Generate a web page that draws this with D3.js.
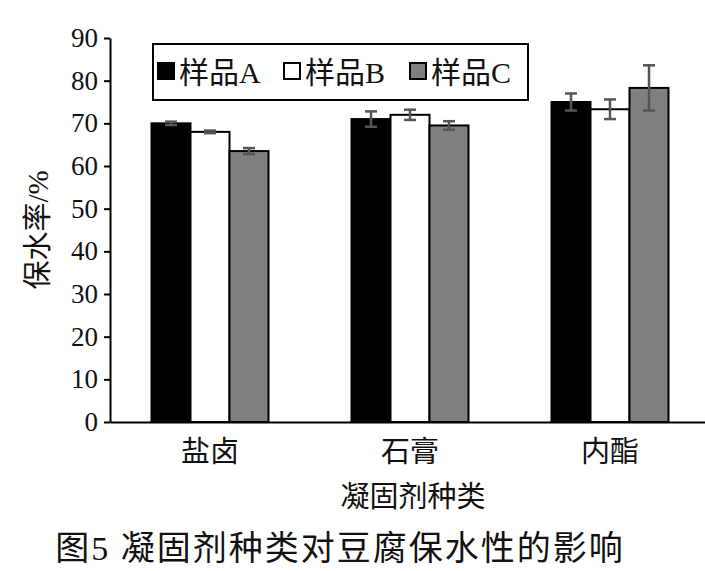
<!DOCTYPE html>
<html><head><meta charset="utf-8">
<script src="https://cdn.jsdelivr.net/npm/d3@7"></script>
<style>body{margin:0;background:#fff}text{font-family:"Liberation Serif","Noto Sans CJK SC",serif;fill:#111}</style>
</head><body><div id="c"></div>
<script>
const categories = ["盐卤", "石膏", "内酯"];
const series = ["样品A", "样品B", "样品C"];
const valuesA = [70, 71, 75];
const valuesB = [68, 72, 73.3];
const valuesC = [63.5, 69.5, 78.3];
const errA = [0.4, 1.8, 2.0];
const errB = [0.3, 1.2, 2.3];
const errC = [0.7, 1.0, 5.3];
const yTicks = [0, 10, 20, 30, 40, 50, 60, 70, 80, 90];

const W = 705, H = 571;
const svg = d3.select("#c").append("svg").attr("width", W).attr("height", H);
const x = d3.scaleBand().domain(categories).range([110, 710]);
const y = d3.scaleLinear().domain([0, 90]).range([422, 38]);
const fills = ["#000", "#fff", "#7f7f7f"];
const vals = [valuesA, valuesB, valuesC];
const errs = [errA, errB, errC];
const bw = 39;

categories.forEach((c, i) => {
  const cx = x(c) + x.bandwidth() / 2;
  vals.forEach((v, s) => {
    const x0 = cx - 1.5 * bw + s * bw;
    svg.append("rect").attr("x", x0).attr("y", y(v[i])).attr("width", bw)
      .attr("height", y(0) - y(v[i])).attr("fill", fills[s])
      .attr("stroke", "#000").attr("stroke-width", 2);
    const mx = x0 + bw / 2, e = errs[s][i];
    const g = svg.append("g").attr("stroke", "#555").attr("stroke-width", 2.5);
    g.append("line").attr("x1", mx).attr("x2", mx).attr("y1", y(v[i] - e)).attr("y2", y(v[i] + e));
    [v[i] - e, v[i] + e].forEach(t => g.append("line").attr("x1", mx - 6).attr("x2", mx + 6).attr("y1", y(t)).attr("y2", y(t)));
  });
});

const ay = svg.append("g").attr("transform", "translate(110,0)")
  .call(d3.axisLeft(y).tickValues(yTicks).tickSize(6).tickSizeOuter(0));
ay.select(".domain").attr("stroke", "#000").attr("stroke-width", 2);
ay.selectAll(".tick line").attr("stroke", "#000").attr("stroke-width", 2);
ay.selectAll("text").style("font-size", "27px").attr("x", -12);
const ax = svg.append("g").attr("transform", "translate(0,422)")
  .call(d3.axisBottom(x).tickSize(0).tickSizeOuter(0));
ax.select(".domain").attr("stroke", "#000").attr("stroke-width", 2);
ax.selectAll("text").style("font-size", "29px").attr("dy", 0).attr("y", 40);

svg.append("text").attr("transform", "translate(48,230) rotate(-90)").attr("text-anchor", "middle")
  .style("font-size", "29px").text("保水率/%");
svg.append("text").attr("x", 413).attr("y", 507).attr("text-anchor", "middle")
  .style("font-size", "29px").text("凝固剂种类");
svg.append("text").attr("x", 340).attr("y", 560).attr("text-anchor", "middle")
  .style("font-size", "34px").style("letter-spacing", "2px").text("图5  凝固剂种类对豆腐保水性的影响");

const lg = svg.append("g");
lg.append("rect").attr("x", 153).attr("y", 44).attr("width", 375).attr("height", 56)
  .attr("fill", "#fff").attr("stroke", "#000").attr("stroke-width", 2);
series.forEach((s, i) => {
  const lx = 158 + i * 126;
  lg.append("rect").attr("x", lx).attr("y", 63).attr("width", 16).attr("height", 16)
    .attr("fill", fills[i]).attr("stroke", "#000").attr("stroke-width", 2);
  lg.append("text").attr("x", lx + 21).attr("y", 83).style("font-size", "30px").text(s);
});
</script></body></html>
